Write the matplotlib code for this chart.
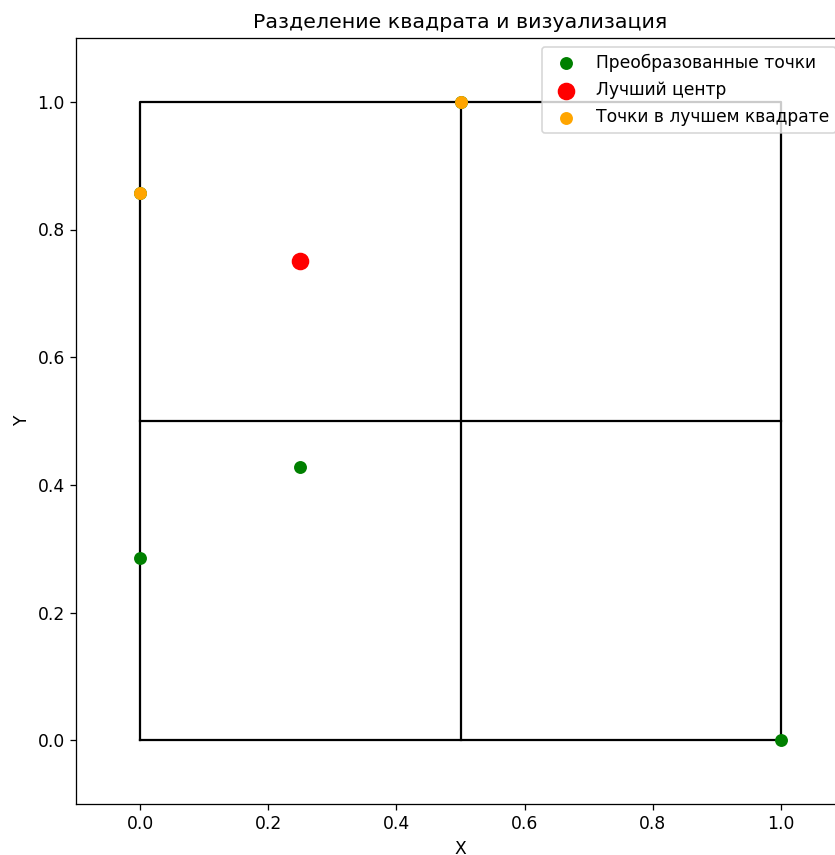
import matplotlib
matplotlib.use("Agg")
import matplotlib.pyplot as plt

# Data
square_x = [0, 1, 1, 0, 0]
square_y = [0, 0, 1, 1, 0]
vline_x = [0.5, 0.5]
vline_y = [0, 1]
hline_x = [0, 1]
hline_y = [0.5, 0.5]

green_x = [0.0, 0.25, 1.0, 0.0, 0.5]
green_y = [2/7, 3/7, 0.0, 6/7, 1.0]
best_center_x = [0.25]
best_center_y = [0.75]
best_x = [0.0, 0.5]
best_y = [6/7, 1.0]

plt.rcParams['font.size'] = 10.7

dpi = 115
fig = plt.figure(figsize=(835/dpi, 855/dpi), dpi=dpi)
W, H = 835, 855
ax = fig.add_axes([76/W, (H-804)/H, (845-76)/W, (804-38)/H])

ax.plot(square_x, square_y, color='black', lw=1.4, zorder=1)
ax.plot(vline_x, vline_y, color='black', lw=1.4, zorder=1)
ax.plot(hline_x, hline_y, color='black', lw=1.4, zorder=1)

ax.scatter(green_x, green_y, color='green', s=50, label='Преобразованные точки', zorder=2)
ax.scatter(best_center_x, best_center_y, color='red', s=100, label='Лучший центр', zorder=2)
ax.scatter(best_x, best_y, color='orange', s=50, label='Точки в лучшем квадрате', zorder=2)

ax.set_xlim(-0.1, 1.1)
ax.set_ylim(-0.1, 1.1)
ax.set_xticks([0.0, 0.2, 0.4, 0.6, 0.8, 1.0])
ax.set_yticks([0.0, 0.2, 0.4, 0.6, 0.8, 1.0])
ax.set_xlabel('X')
ax.set_ylabel('Y')
ax.set_title('Разделение квадрата и визуализация')
ax.legend(loc='upper right', labelspacing=0.55)

fig.savefig('out.png', dpi=dpi)
